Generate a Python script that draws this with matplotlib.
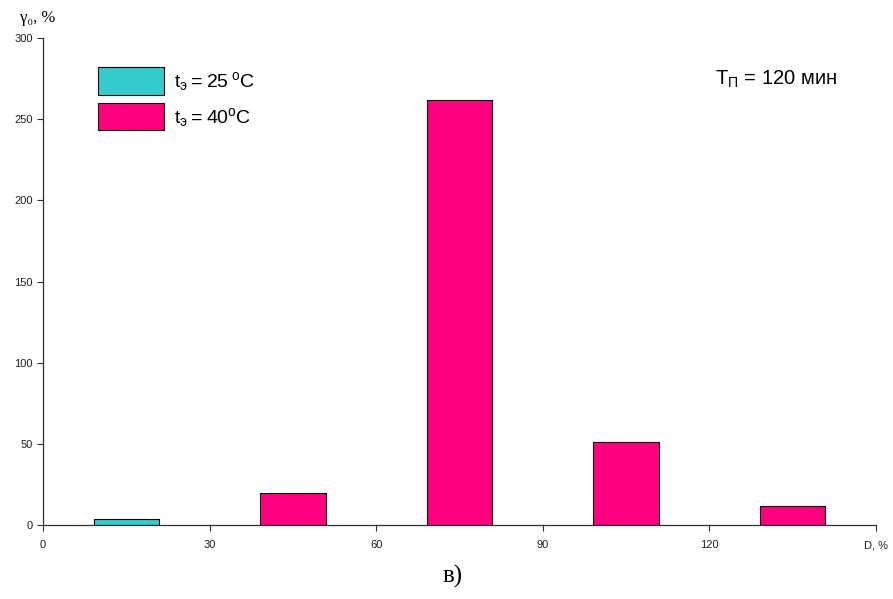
import matplotlib
matplotlib.use('Agg')
import matplotlib.pyplot as plt

# size classes, %
d_25 = [15]
d_40 = [45, 75, 105, 135]
# share, %
g_25 = [4]
g_40 = [20, 262, 51, 12]

xticks = [0, 30, 60, 90, 120, 150]
xlabels = ['0', '30', '60', '90', '120', 'D, %']
yticks = [0, 50, 100, 150, 200, 250, 300]

plt.rcParams['font.family'] = ['Liberation Sans', 'DejaVu Sans']
plt.rcParams['mathtext.fontset'] = 'custom'
plt.rcParams['mathtext.rm'] = 'Liberation Sans'

figure = plt.figure(figsize=(8.93, 5.99), dpi=100)
axes = figure.add_axes([43/893, 74/599, 833/893, 487/599])

axes.bar(d_25, g_25, width=11.8, color='#33CCCC', edgecolor='black',
         linewidth=0.8, label=r'$\mathregular{t_{э}= 25\,^{o}C}$')
axes.bar(d_40, g_40, width=11.8, color='#FF0080', edgecolor='black',
         linewidth=0.8, label=r'$\mathregular{t_{э}=40^{o}C}$')

axes.set_xlim(0, 150)
axes.set_ylim(0, 300)
axes.set_xticks(xticks)
axes.set_xticklabels(xlabels)
axes.set_yticks(yticks)
for side in ['top', 'right']:
    axes.spines[side].set_visible(False)
for side in ['left', 'bottom']:
    axes.spines[side].set_color('#303030')
    axes.spines[side].set_linewidth(0.9)
axes.tick_params(labelsize=8, length=4, width=0.8, color='#303030',
                 labelcolor='#222222')
axes.tick_params(axis='x', pad=7)

axes.legend(loc='upper left', bbox_to_anchor=(0.05, 0.968), frameon=False,
            fontsize=14, handlelength=3.4, handleheight=1.8,
            handletextpad=0.5, labelspacing=0.42, borderaxespad=0.3)

axes.text(0.807, 0.905, r'$\mathregular{T_{П}}$ = 120 мин', fontsize=14.5,
          transform=axes.transAxes)

figure.text(20/893, 1 - 18/599, 'γ₀, %', fontsize=12,
            family=['Liberation Serif', 'DejaVu Serif'], va='center')
figure.text(453/893, 1 - 576/599, 'в)', fontsize=18,
            family=['Liberation Serif', 'DejaVu Serif'],
            ha='center', va='center')

figure.savefig('out.png', dpi=100)
